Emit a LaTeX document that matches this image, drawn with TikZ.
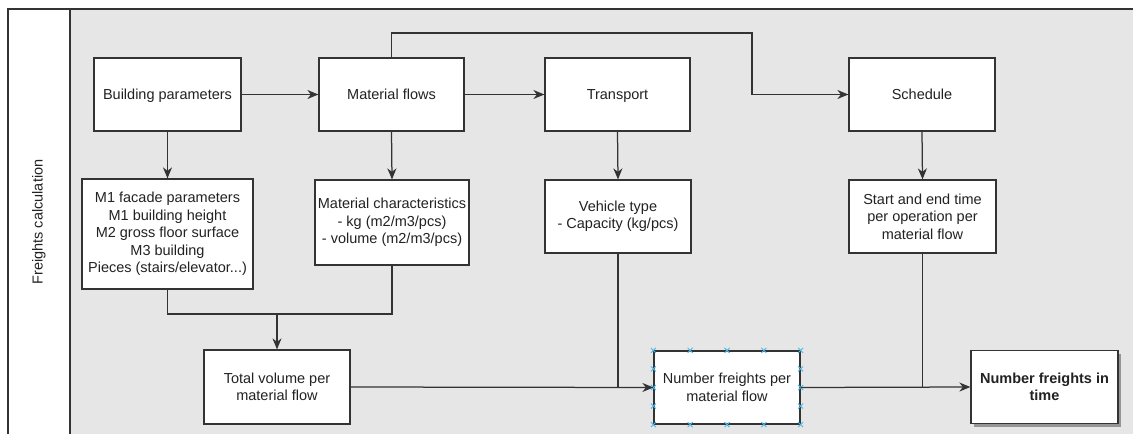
\documentclass[tikz,border=0pt]{standalone}
\usepackage{fontspec}
\setmainfont{Liberation Sans}
\usetikzlibrary{arrows.meta,shadows,calc}
\definecolor{lanegray}{HTML}{E6E6E6}
\definecolor{edge}{HTML}{333333}
\definecolor{ink}{HTML}{222222}
\definecolor{handle}{HTML}{4DB8EA}
\begin{document}
\begin{tikzpicture}[x=1pt,y=-1pt,
  txt/.style={text=ink, font=\fontsize{14.5}{17.4}\selectfont},
  box/.style={txt, draw=edge, line width=1.25pt, fill=white, align=center, inner sep=2pt},
  oneline/.style={text height=10.5pt, text depth=0.6pt},
  flow/.style={draw=edge, line width=1.25pt},
  arr/.style={flow, -{Stealth[length=11pt,width=9pt,inset=3.5pt]}},
  handlemark/.style={draw=handle, line width=0.9pt}]
\useasboundingbox (0,0) rectangle (1133,434);
\fill[white] (0,0) rectangle (1133,434);
% swimlane
\fill[lanegray] (70,9) rectangle (1133,434);
\draw[flow] (8,434) -- (8,9) -- (1133,9);
\draw[flow] (70,9) -- (70,434);
\node[txt, rotate=90] (lane) at (39,222) {Freights calculation};

% top row
\node[box, oneline, minimum width=147, minimum height=73] (bp) at (167.5,94.5) {Building parameters};
\node[box, oneline, minimum width=145, minimum height=73] (mf) at (391.5,94.5) {Material flows};
\node[box, oneline, minimum width=145, minimum height=73] (tr) at (617.5,94.5) {Transport};
\node[box, oneline, minimum width=146, minimum height=73] (sc) at (922,94.5) {Schedule};

% second row
\node[box, minimum width=171, minimum height=110] (m1) at (167.5,234) {M1 facade parameters\\M1 building height\\M2 gross floor surface\\M3 building\\Pieces (stairs/elevator...)};
\node[box, minimum width=154, minimum height=85] (mc) at (392,222.5) {Material characteristics\\- kg (m2/m3/pcs)\\- volume (m2/m3/pcs)};
\node[box, minimum width=146, minimum height=73] (vt) at (618,216.5) {Vehicle type\\- Capacity (kg/pcs)};
\node[box, minimum width=147, minimum height=73] (se) at (922.5,216.5) {Start and end time\\per operation per\\material flow};

% bottom row
\node[box, minimum width=146, minimum height=74] (tv) at (277,387) {Total volume per\\material flow};
\node[box, minimum width=146, minimum height=73] (nf) at (727,387.5) {Number freights per\\material flow};
\node[box, minimum width=147, minimum height=73, font=\fontsize{14.5}{17.4}\selectfont\bfseries,
      drop shadow={shadow xshift=3pt, shadow yshift=-3pt, opacity=0.35, fill=black}] (nft) at (1044.5,387) {Number freights in\\time};

% selection handles
\foreach \f in {0,0.25,0.5,0.75,1}{
  \draw[handlemark] ($(nf.north west)!\f!(nf.north east)$) ++(-2.5,-2.5) -- ++(5,5) ++(-5,0) -- ++(5,-5);
  \draw[handlemark] ($(nf.south west)!\f!(nf.south east)$) ++(-2.5,-2.5) -- ++(5,5) ++(-5,0) -- ++(5,-5);
}
\foreach \f in {0.25,0.5,0.75}{
  \draw[handlemark] ($(nf.north west)!\f!(nf.south west)$) ++(-2.5,-2.5) -- ++(5,5) ++(-5,0) -- ++(5,-5);
  \draw[handlemark] ($(nf.north east)!\f!(nf.south east)$) ++(-2.5,-2.5) -- ++(5,5) ++(-5,0) -- ++(5,-5);
}

% connectors, top row
\draw[arr] (bp.east) -- (mf.west);
\draw[arr] (mf.east) -- (tr.west);
\coordinate (over) at (752,33);
\draw[arr] (mf.north) -- (mf.north |- over) -- (over) -- (over |- sc.west) -- (sc.west);

% connectors, downward
\draw[arr] (bp.south) -- (m1.north);
\draw[arr] (mf.south) -- (mc.north);
\draw[arr] (tr.south) -- (vt.north);
\draw[arr] (sc.south) -- (se.north);

% merge into total volume
\coordinate (merge) at (277,314);
\draw[flow] (m1.south) -- (m1.south |- merge) -- (mc.south |- merge) -- (mc.south);
\draw[arr] (merge) -- (tv.north);

% bottom row
\draw[arr] (tv.east) -- (nf.west);
\draw[flow] (vt.south) -- (vt.south |- nf.west);
\draw[arr] (nf.east) -- (nft.west);
\draw[flow] (se.south) -- (se.south |- nft.west);
\end{tikzpicture}
\end{document}
